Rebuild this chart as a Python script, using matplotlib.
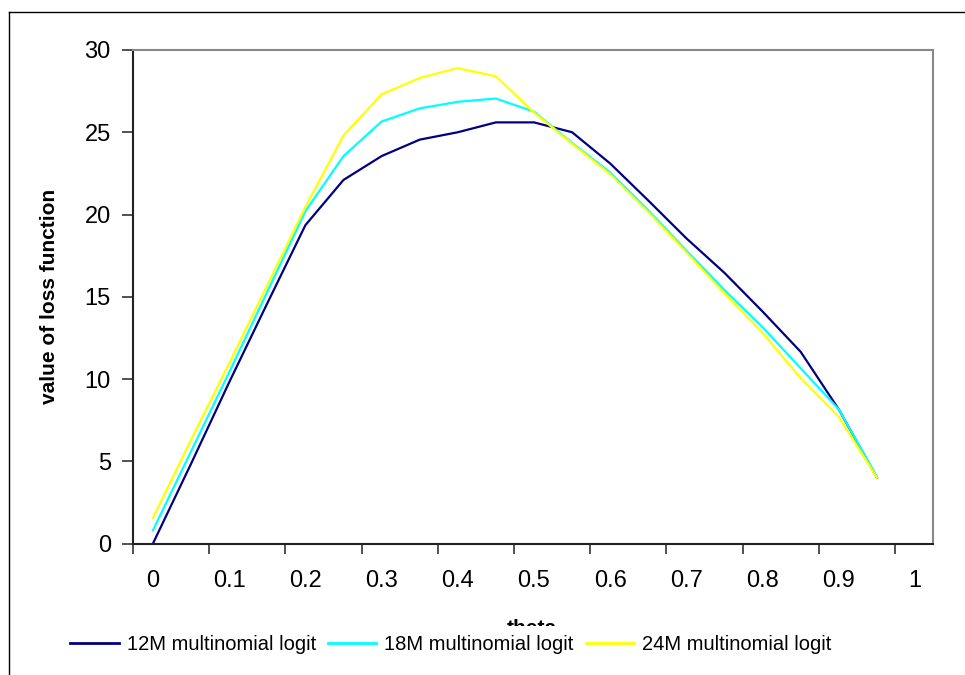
import matplotlib.pyplot as plt
from matplotlib.lines import Line2D
from matplotlib.patches import Rectangle

plt.rcParams['font.family'] = ['Liberation Sans', 'DejaVu Sans']

# data
theta = [0.0, 0.05, 0.1, 0.15, 0.2, 0.25, 0.3, 0.35, 0.4, 0.45,
         0.5, 0.55, 0.6, 0.65, 0.7, 0.75, 0.8, 0.85, 0.9, 0.95]
loss_12m = [0.0, 4.85, 9.8, 14.6, 19.35, 22.1, 23.55, 24.55, 25.0, 25.6,
            25.6, 25.0, 23.1, 20.85, 18.55, 16.45, 14.1, 11.65, 8.15, 4.0]
loss_18m = [0.8, 5.6, 10.4, 15.3, 20.2, 23.55, 25.65, 26.45, 26.85, 27.05,
            26.25, 24.35, 22.55, 20.25, 17.8, 15.4, 13.15, 10.65, 8.15, 4.05]
loss_24m = [1.55, 6.3, 10.95, 15.7, 20.45, 24.8, 27.3, 28.3, 28.9, 28.4,
            26.2, 24.3, 22.45, 20.15, 17.7, 15.2, 12.8, 10.05, 7.7, 4.0]
labels = ["12M multinomial logit", "18M multinomial logit", "24M multinomial logit"]
colors = ["#000080", "#00FFFF", "#FFFF00"]

xticklabels = ["0", "0.1", "0.2", "0.3", "0.4", "0.5", "0.6", "0.7", "0.8", "0.9", "1"]
xtick_vals = [0.0, 0.1, 0.2, 0.3, 0.4, 0.5, 0.6, 0.7, 0.8, 0.9, 1.0]
yticks = [0, 5, 10, 15, 20, 25, 30]

W, H = 965, 675
fig = plt.figure(figsize=(W / 100, H / 100), dpi=100)
ax = fig.add_axes([133 / W, 1 - 543.5 / H, 800 / W, 493.5 / H])

for ys, c, lab in zip([loss_12m, loss_18m, loss_24m], colors, labels):
    ax.plot(theta, ys, color=c, lw=1.6, label=lab, solid_joinstyle='miter')

off = 0.0262
ax.set_xlim(-off, 1.0236)
ax.set_ylim(0, 30)

# labels sit on the values, tick marks are shifted left (Excel style)
ax.set_xticks(xtick_vals)
ax.set_xticklabels(xticklabels)
ax.set_xticks([v - off for v in xtick_vals], minor=True)
ax.tick_params(axis='x', which='major', length=0, pad=19, labelsize=17)
ax.tick_params(axis='x', which='minor', length=7, width=1.2, direction='out', color='#333333')
ax.set_yticks(yticks)
ax.tick_params(axis='y', length=8, width=1.2, direction='out', pad=8, labelsize=17, color='#333333')

ax.spines['left'].set_color('#222222')
ax.spines['bottom'].set_color('#222222')
ax.spines['top'].set_color('#888888')
ax.spines['right'].set_color('#888888')
for s in ax.spines.values():
    s.set_linewidth(1.5)

ax.set_ylabel("value of loss function", fontsize=15, fontweight='bold', labelpad=4)
ax.yaxis.set_label_coords(-(133 - 59) / 800, 0.5)

fig.text(532 / W, 1 - 634 / H, "theta", ha='center', va='baseline',
         fontsize=15, fontweight='bold')

# white legend area hides the lower part of the x title
fig.add_artist(Rectangle((20 / W, 0), 930 / W, 1 - 626 / H, transform=fig.transFigure,
                         facecolor='white', edgecolor='none', zorder=4))

handles = [Line2D([], [], color=c, lw=2) for c in colors]
fig.legend(handles, labels, loc='center', bbox_to_anchor=(451 / W, 1 - 645 / H), ncol=3,
           frameon=False, fontsize=14.5, handlelength=2.4, handletextpad=0.4,
           columnspacing=0.6, borderpad=0)

# outer chart border
fig.add_artist(Line2D([9 / W, 9 / W], [0, 1 - 12 / H], color='black', lw=1))
fig.add_artist(Line2D([9 / W, 1], [1 - 12 / H, 1 - 12 / H], color='black', lw=1))

fig.savefig("out.png", dpi=100, facecolor='white')
